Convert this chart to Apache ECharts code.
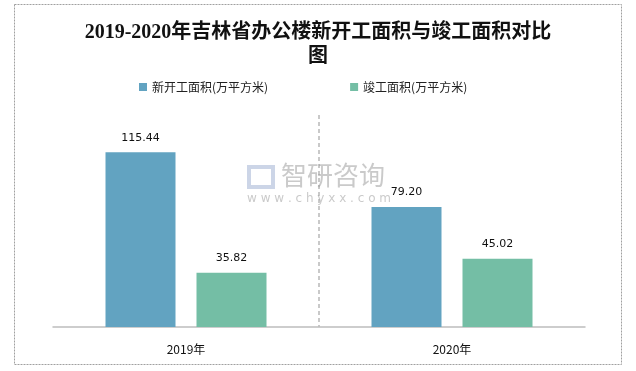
<!DOCTYPE html>
<html><head><meta charset="utf-8">
<script src="https://cdn.jsdelivr.net/npm/echarts@6/dist/echarts.min.js"></script>
<style>html,body{margin:0;padding:0;background:#fff}#c{width:636px;height:371px}</style>
</head><body><div id="c"></div>
<script>
const titleText = '2019-2020年吉林省办公楼新开工面积与竣工面积对比\n图';
const categories = ['2019年', '2020年'];
const seriesNames = ['新开工面积(万平方米)', '竣工面积(万平方米)'];
const newStarts = [115.44, 79.20];
const completed = [35.82, 45.02];
const colors = ['#62a3c1', '#74bea5'];

const chart = echarts.init(document.getElementById('c'));
const labelCfg = {show: true, position: 'top', distance: 9, color: '#111', fontSize: 11,
  fontFamily: 'DejaVu Sans, Noto Sans', formatter: p => p.value.toFixed(2)};
chart.setOption({
  animation: false,
  backgroundColor: '#fff',
  title: {text: titleText, left: 'center', top: 16, textStyle: {fontFamily: 'Liberation Serif, Noto Sans CJK SC', fontWeight: 'bold', fontSize: 20, lineHeight: 24, color: '#111'}},
  legend: {top: 76, left: 134, itemWidth: 8, itemHeight: 8, itemGap: 82, icon: 'rect',
    textStyle: {fontSize: 12, color: '#222', fontFamily: 'Noto Sans CJK SC'}, data: seriesNames},
  grid: {left: 53, right: 51, top: 115, bottom: 44},
  xAxis: {type: 'category', data: categories,
    axisLine: {lineStyle: {color: '#bdbdbd', width: 1.5}}, axisTick: {show: false},
    axisLabel: {fontSize: 12, color: '#111', margin: 16, fontFamily: 'Noto Sans CJK SC'},
    splitLine: {show: true, lineStyle: {type: [4, 3], color: ['transparent', '#b8b8b8', 'transparent'], width: 1.5}}},
  yAxis: {type: 'value', min: 0, max: 140, show: false, splitLine: {show: false}},
  series: [
    {name: seriesNames[0], type: 'bar', data: newStarts, barWidth: 70, barGap: '30%', itemStyle: {color: colors[0]}, label: labelCfg},
    {name: seriesNames[1], type: 'bar', data: completed, barWidth: 70, itemStyle: {color: colors[1]}, label: labelCfg}
  ],
  graphic: [
    {type: 'rect', shape: {x: 14.5, y: 4.5, width: 607, height: 360}, style: {fill: 'none', stroke: '#a0a0a0', lineWidth: 1, lineDash: [2, 1]}, z: -1},
    {type: 'text', left: 281, top: 162, style: {text: '智研咨询', fontSize: 26, fill: 'rgba(150,150,150,0.5)', fontFamily: 'Noto Sans CJK SC'}, z: 10},
    {type: 'text', left: 247, top: 193, style: {text: 'w w w . c h y x x . c o m', fontSize: 12, fill: 'rgba(150,150,150,0.5)', fontFamily: 'DejaVu Sans'}, z: 10},
    {type: 'rect', shape: {x: 249, y: 167, width: 24, height: 20}, style: {fill: 'none', stroke: 'rgba(170,185,215,0.6)', lineWidth: 4}, z: 10}
  ]
});
</script></body></html>
